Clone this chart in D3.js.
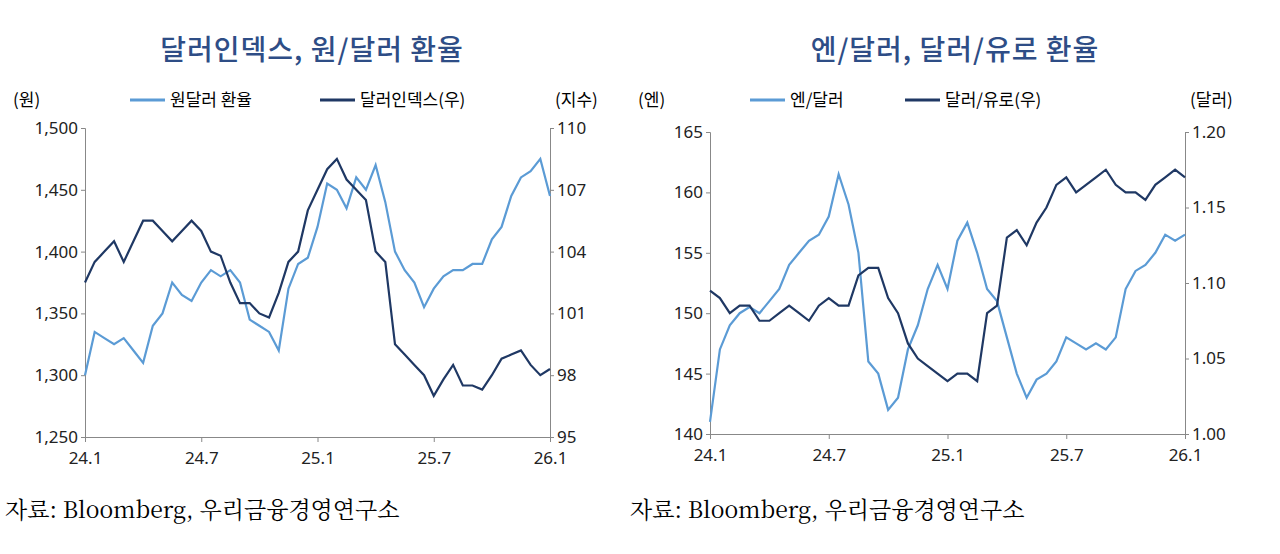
<!DOCTYPE html>
<html><head><meta charset="utf-8">
<script src="https://cdn.jsdelivr.net/npm/d3@7"></script>
<style>body{margin:0;background:#fff;font-family:"Noto Sans CJK KR","Noto Sans",sans-serif}</style>
</head><body>
<script>
// half-month steps from 24.1 to 26.1
var krw = [1300,1335,1330,1325,1330,1320,1310,1340,1350,1375,1365,1360,1375,1385,1380,1385,1375,1345,1340,1335,1320,1370,1390,1395,1420,1455,1450,1435,1460,1450,1470,1440,1400,1385,1375,1355,1370,1380,1385,1385,1390,1390,1410,1420,1445,1460,1465,1475,1445];
var dxy = [102.5,103.5,104,104.5,103.5,104.5,105.5,105.5,105,104.5,105,105.5,105,104,103.8,102.5,101.5,101.5,101,100.8,102,103.5,104,106,107,108,108.5,107.5,107,106.5,104,103.5,99.5,99,98.5,98,97,97.8,98.5,97.5,97.5,97.3,98,98.8,99,99.2,98.5,98,98.3];
var jpy = [141,147,149,150,150.5,150,151,152,154,155,156,156.5,158,161.5,159,155,146,145,142,143,147,149,152,154,152,156,157.5,155,152,151,148,145,143,144.5,145,146,148,147.5,147,147.5,147,148,152,153.5,154,155,156.5,156,156.5];
var eur = [1.095,1.09,1.08,1.085,1.085,1.075,1.075,1.08,1.085,1.08,1.075,1.085,1.09,1.085,1.085,1.105,1.11,1.11,1.09,1.08,1.06,1.05,1.045,1.04,1.035,1.04,1.04,1.035,1.08,1.085,1.13,1.135,1.125,1.14,1.15,1.165,1.17,1.16,1.165,1.17,1.175,1.165,1.16,1.16,1.155,1.165,1.17,1.175,1.17];
var xLabels = ["24.1","24.7","25.1","25.7","26.1"];
var light = "#5b9bd5", dark = "#1f3864";

var svg = d3.select("body").append("svg").attr("width",1280).attr("height",554);

function panel(o){
  var x = d3.scaleLinear().domain([0,48]).range([o.x0,o.x1]);
  var yl = d3.scaleLinear().domain(o.ld).range([o.y1,o.y0]);
  var yr = d3.scaleLinear().domain(o.rd).range([o.y1,o.y0]);
  var g = svg.append("g");
  g.append("text").attr("x",o.tx).attr("y",60).attr("text-anchor","middle")
    .attr("font-size",28).attr("font-weight","500").attr("letter-spacing",1).attr("fill","#2e4d86").text(o.title);
  g.append("g").attr("transform","translate("+o.x0+",0)")
    .call(d3.axisLeft(yl).tickValues(o.lt).tickFormat(o.lf).tickSize(4));
  g.append("g").attr("transform","translate("+o.x1+",0)")
    .call(d3.axisRight(yr).tickValues(o.rt).tickFormat(o.rf).tickSize(4));
  var ax = g.append("g").attr("transform","translate(0,"+o.y1+")")
    .call(d3.axisBottom(x).tickValues([0,12,24,36,48]).tickFormat(function(d,i){return xLabels[i];}).tickSize(5));
  g.selectAll(".domain,.tick line").attr("stroke","#888");
  g.selectAll(".tick text").attr("font-size",17).attr("fill","#222").attr("font-family","Noto Sans, sans-serif");
  ax.selectAll(".tick text").attr("dy","1.1em");
  g.append("text").attr("x",o.x0-72).attr("y",106).attr("font-size",17).text(o.lu);
  g.append("text").attr("x",o.x1+5).attr("y",106).attr("font-size",17).text(o.ru);
  var ls = [[o.n1,light,o.lg1],[o.n2,dark,o.lg2]];
  ls.forEach(function(l){
    g.append("line").attr("x1",l[2]).attr("x2",l[2]+35).attr("y1",100).attr("y2",100).attr("stroke",l[1]).attr("stroke-width",3);
    g.append("text").attr("x",l[2]+40).attr("y",106).attr("font-size",17).text(l[0]);
  });
  g.append("path").datum(o.d1).attr("fill","none").attr("stroke",light).attr("stroke-width",2.2)
    .attr("d",d3.line().x(function(d,i){return x(i);}).y(function(d){return yl(d);}));
  g.append("path").datum(o.d2).attr("fill","none").attr("stroke",dark).attr("stroke-width",2.2)
    .attr("d",d3.line().x(function(d,i){return x(i);}).y(function(d){return yr(d);}));
  g.append("text").attr("x",o.x0-80).attr("y",518).attr("font-size",23).attr("font-family","Noto Serif CJK KR, Noto Sans CJK KR, serif")
    .text("자료: Bloomberg, 우리금융경영연구소");
}

panel({x0:85,x1:550,y0:128,y1:437,tx:312,title:"달러인덱스, 원/달러 환율",
  ld:[1250,1500],rd:[95,110],lt:[1250,1300,1350,1400,1450,1500],rt:[95,98,101,104,107,110],
  lf:d3.format(","),rf:d3.format("d"),lu:"(원)",ru:"(지수)",
  n1:"원달러 환율",n2:"달러인덱스(우)",lg1:130,lg2:320,d1:krw,d2:dxy});
panel({x0:710,x1:1185,y0:132,y1:434,tx:955,title:"엔/달러, 달러/유로 환율",
  ld:[140,165],rd:[1.00,1.20],lt:[140,145,150,155,160,165],rt:[1.00,1.05,1.10,1.15,1.20],
  lf:d3.format("d"),rf:d3.format(".2f"),lu:"(엔)",ru:"(달러)",
  n1:"엔/달러",n2:"달러/유로(우)",lg1:750,lg2:905,d1:jpy,d2:eur});
</script>
</body></html>
